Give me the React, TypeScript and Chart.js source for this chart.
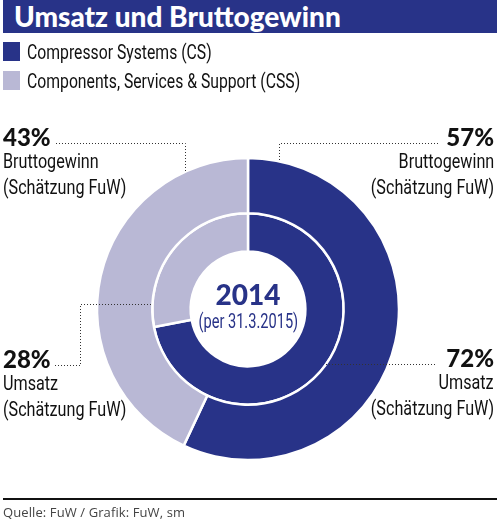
import React, { useEffect, useRef } from 'react';
import { Chart, registerables } from 'chart.js';
import type { Plugin } from 'chart.js';

Chart.register(...registerables);

const segments = ['Compressor Systems (CS)', 'Components, Services & Support (CSS)'];
const bruttogewinn = [57, 43]; // outer ring
const umsatz = [72, 28]; // inner ring
const centerYear = '2014';
const centerNote = '(per 31.3.2015)';

const DARK = '#283388';
const LIGHT = '#b9b8d5';
const NARROW = "'Roboto', 'Noto Sans', sans-serif";
const BOLD = "'Lato', 'Open Sans', sans-serif";

// dotted leader lines, anchored to the rings drawn by Chart.js
const leaderPlugin: Plugin<'doughnut'> = {
    id: 'leaders',
    afterDatasetsDraw(chart) {
        const outer = chart.getDatasetMeta(0).data[0] as any;
        const inner = chart.getDatasetMeta(1).data[0] as any;
        if (!outer || !inner) return;
        const cx = outer.x;
        const cy = outer.y;
        const R = outer.outerRadius;
        const r = inner.outerRadius;
        const ctx = chart.ctx;
        ctx.save();
        ctx.strokeStyle = '#333';
        ctx.lineWidth = 1;
        ctx.setLineDash([1, 2]);

        const line = (pts: [number, number][]) => {
            ctx.beginPath();
            ctx.moveTo(pts[0][0], pts[0][1]);
            pts.slice(1).forEach(p => ctx.lineTo(p[0], p[1]));
            ctx.stroke();
        };

        // Bruttogewinn (outer ring)
        const lx = 185.5;
        line([[56, 143.5], [lx, 143.5], [lx, cy - Math.sqrt(R * R - (lx - cx) ** 2)]]);
        const rx = 279.5;
        line([[438, 143.5], [rx, 143.5], [rx, cy - Math.sqrt(R * R - (rx - cx) ** 2)]]);

        // Umsatz (inner ring)
        const ly = 304.5;
        line([[55, 365.5], [80.5, 365.5], [80.5, ly], [cx - Math.sqrt(r * r - (ly - cy) ** 2), ly]]);
        const ry = 364.5;
        line([[435, ry], [cx + Math.sqrt(r * r - (ry - cy) ** 2), ry]]);

        ctx.restore();
    },
};

const Narrow: React.FC<{ text: string; size: number; origin: string; squeeze?: number }> = ({ text, size, origin, squeeze = 0.77 }) => (
    <span
        style={{
            display: 'inline-block',
            whiteSpace: 'nowrap',
            font: `${size}px ${NARROW}`,
            transform: `scaleX(${squeeze})`,
            transformOrigin: origin,
        }}
    >
        {text}
    </span>
);

const Label: React.FC<{ pct: number; kind: string; x: number; y: number; right?: boolean }> = ({ pct, kind, x, y, right }) => {
    const origin = right ? 'right' : 'left';
    return (
        <div
            style={{
                position: 'absolute',
                top: y,
                ...(right ? { right: x } : { left: x }),
                textAlign: right ? 'right' : 'left',
                color: '#111',
                whiteSpace: 'nowrap',
            }}
        >
            <div style={{ font: `900 24px ${BOLD}`, lineHeight: '25px' }}>{pct}%</div>
            <div style={{ lineHeight: '24px' }}><Narrow text={kind} size={21} origin={origin} /></div>
            <div style={{ lineHeight: '24px' }}><Narrow text="(Schätzung FuW)" size={21} origin={origin} /></div>
        </div>
    );
};

export default function App() {
    const canvasRef = useRef<HTMLCanvasElement>(null);

    useEffect(() => {
        if (!canvasRef.current) return;
        const chart = new Chart(canvasRef.current, {
            type: 'doughnut',
            data: {
                labels: segments,
                datasets: [
                    {
                        data: bruttogewinn,
                        backgroundColor: [DARK, LIGHT],
                        borderColor: '#ffffff',
                        borderWidth: 2.5,
                        weight: 55,
                    },
                    {
                        data: umsatz,
                        backgroundColor: [DARK, LIGHT],
                        borderColor: '#ffffff',
                        borderWidth: 2.5,
                        weight: 38,
                    },
                ],
            },
            options: {
                animation: false,
                responsive: false,
                radius: 151,
                cutout: '38%',
                layout: { padding: { left: 0, right: 4, top: 140, bottom: 44 } },
                plugins: {
                    legend: { display: false },
                    tooltip: { enabled: false },
                },
            },
            plugins: [leaderPlugin],
        });
        return () => chart.destroy();
    }, []);

    return (
        <div style={{ position: 'absolute', left: 0, top: 0, width: 500, height: 522, background: '#fff', overflow: 'hidden' }}>
            <canvas ref={canvasRef} width={500} height={522} style={{ position: 'absolute', left: 0, top: 0, width: 500, height: 522 }} />

            {/* title bar */}
            <div
                style={{
                    position: 'absolute', left: 3, top: 0, width: 494, height: 33, background: DARK,
                    color: '#fff', font: `900 28px ${BOLD}`, lineHeight: '33px', paddingLeft: 11, boxSizing: 'border-box',
                    whiteSpace: 'nowrap',
                }}
            >
                Umsatz und Bruttogewinn
            </div>

            {/* legend */}
            {segments.map((s, i) => (
                <div key={s} style={{ position: 'absolute', left: 3, top: 42 + i * 29, height: 19, display: 'flex', alignItems: 'center', color: '#111' }}>
                    <div style={{ width: 17, height: 19, background: i === 0 ? DARK : LIGHT, marginRight: 7, flex: 'none' }} />
                    <Narrow text={s} size={21} origin="left" squeeze={0.75} />
                </div>
            ))}

            <Label pct={bruttogewinn[1]} kind="Bruttogewinn" x={3} y={124} />
            <Label pct={bruttogewinn[0]} kind="Bruttogewinn" x={6} y={124} right />
            <Label pct={umsatz[1]} kind="Umsatz" x={3} y={346} />
            <Label pct={umsatz[0]} kind="Umsatz" x={6} y={345} right />

            {/* centre */}
            <div style={{ position: 'absolute', left: 168, width: 160, top: 279, textAlign: 'center', color: DARK, whiteSpace: 'nowrap' }}>
                <div style={{ font: `900 28px ${BOLD}`, lineHeight: '30px' }}>{centerYear}</div>
                <div style={{ lineHeight: '22px' }}><Narrow text={centerNote} size={20} origin="center" squeeze={0.73} /></div>
            </div>

            {/* footer */}
            <div style={{ position: 'absolute', left: 3, top: 498, width: 494, height: 2, background: '#111' }} />
            <div style={{ position: 'absolute', left: 3, top: 503, font: `13px 'Open Sans', sans-serif`, color: '#444', letterSpacing: 0.1, whiteSpace: 'nowrap' }}>
                Quelle: FuW / Grafik: FuW, sm
            </div>
        </div>
    );
}
